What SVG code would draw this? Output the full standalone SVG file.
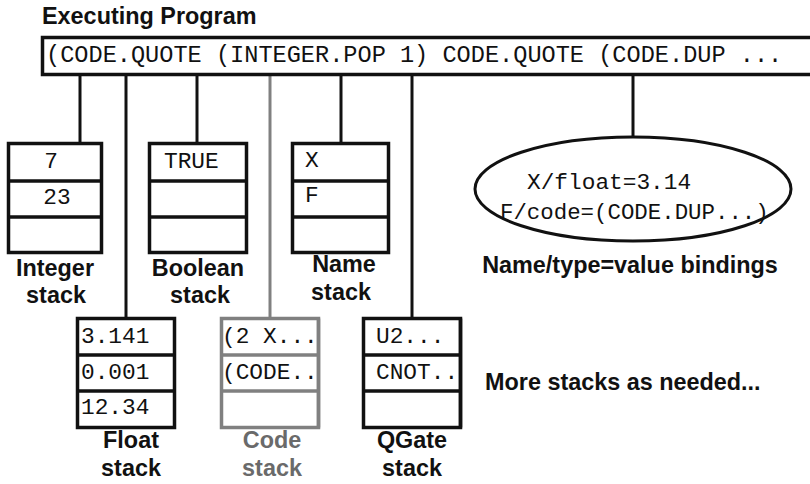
<svg xmlns="http://www.w3.org/2000/svg" width="810" height="484" viewBox="0 0 810 484">
  <style>
    .lbl { font-family: "Liberation Sans", Arial, sans-serif; font-weight: bold; font-size: 23.4px; fill: #111; }
    .lbl.c { text-anchor: middle; }
    .mono { font-family: "Liberation Mono", "Courier New", monospace; font-size: 22.8px; fill: #111; }
    .box { fill: #fff; stroke: #111; stroke-width: 3.5; }
    .div { stroke: #111; stroke-width: 3.5; }
    .gbox { fill: #fff; stroke: #808080; stroke-width: 3.5; }
    .gdiv { stroke: #808080; stroke-width: 3.5; }
    .wire { stroke: #111; stroke-width: 3; fill: none; }
    .gwire { stroke: #808080; stroke-width: 3; fill: none; }
    .grey { fill: #6a6a6a; }
  </style>
  <defs>
    <clipPath id="clipCode"><rect x="221" y="318" width="98" height="110"/></clipPath>
    <clipPath id="clipQGate"><rect x="363" y="318" width="98" height="110"/></clipPath>
  </defs>
  <rect width="810" height="484" fill="#fff"/>

  <!-- wires from the program line down to each stack -->
  <g id="connectors">
    <line class="wire" x1="80" y1="74" x2="80" y2="143"/>
    <line class="wire" x1="126" y1="74" x2="126" y2="318"/>
    <line class="wire" x1="197" y1="74" x2="197" y2="143"/>
    <line class="gwire" x1="270" y1="74" x2="270" y2="318"/>
    <line class="wire" x1="341" y1="74" x2="341" y2="143"/>
    <line class="wire" x1="412" y1="74" x2="412" y2="318"/>
    <line class="wire" x1="633" y1="74" x2="633" y2="138"/>
  </g>

  <g id="program">
    <text class="lbl" x="42" y="24">Executing Program</text>
    <rect class="box" x="42.5" y="37.5" width="800" height="37"/>
    <text class="mono" x="46" y="62" style="font-size:23.6px">(CODE.QUOTE (INTEGER.POP 1) CODE.QUOTE (CODE.DUP ...</text>
  </g>

  <g id="integer-stack">
    <rect class="box" x="8.5" y="143.5" width="93" height="109"/>
    <line class="div" x1="8.5" y1="181" x2="101.5" y2="181"/>
    <line class="div" x1="8.5" y1="217" x2="101.5" y2="217"/>
    <text class="mono" x="51" y="168" text-anchor="middle">7</text>
    <text class="mono" x="57" y="204" text-anchor="middle">23</text>
    <text class="lbl c" x="55" y="276">Integer</text>
    <text class="lbl c" x="56" y="303">stack</text>
  </g>

  <g id="boolean-stack">
    <rect class="box" x="149.5" y="143.5" width="97" height="109"/>
    <line class="div" x1="149.5" y1="181" x2="246.5" y2="181"/>
    <line class="div" x1="149.5" y1="217" x2="246.5" y2="217"/>
    <text class="mono" x="164" y="168">TRUE</text>
    <text class="lbl c" x="198" y="276">Boolean</text>
    <text class="lbl c" x="200" y="303">stack</text>
  </g>

  <g id="name-stack">
    <rect class="box" x="292.5" y="143.5" width="96" height="109"/>
    <line class="div" x1="292.5" y1="181" x2="388.5" y2="181"/>
    <line class="div" x1="292.5" y1="217" x2="388.5" y2="217"/>
    <text class="mono" x="305" y="167">X</text>
    <text class="mono" x="305" y="202">F</text>
    <text class="lbl c" x="344" y="272">Name</text>
    <text class="lbl c" x="341" y="300">stack</text>
  </g>

  <g id="bindings">
    <ellipse cx="633" cy="189" rx="158" ry="52" fill="#fff" stroke="#111" stroke-width="3"/>
    <text class="mono" x="527" y="189">X/float=3.14</text>
    <text class="mono" x="500" y="219" style="font-size:22.4px">F/code=(CODE.DUP...)</text>
    <text class="lbl c" x="630" y="273">Name/type=value bindings</text>
  </g>

  <g id="float-stack">
    <rect class="box" x="77.5" y="318.5" width="97" height="109"/>
    <line class="div" x1="77.5" y1="355" x2="174.5" y2="355"/>
    <line class="div" x1="77.5" y1="391" x2="174.5" y2="391"/>
    <text class="mono" x="81" y="343">3.141</text>
    <text class="mono" x="81" y="379">0.001</text>
    <text class="mono" x="81" y="414">12.34</text>
    <text class="lbl c" x="131" y="448">Float</text>
    <text class="lbl c" x="131" y="476">stack</text>
  </g>

  <g id="code-stack">
    <rect class="gbox" x="221.5" y="318.5" width="97" height="109"/>
    <g clip-path="url(#clipCode)">
      <text class="mono" x="222" y="343">(2 X...</text>
      <text class="mono" x="222" y="379">(CODE..</text>
    </g>
    <line class="gdiv" x1="221.5" y1="355" x2="318.5" y2="355"/>
    <line class="gdiv" x1="221.5" y1="391" x2="318.5" y2="391"/>
    <line class="gdiv" x1="318.5" y1="318.5" x2="318.5" y2="427.5"/>
    <text class="lbl c grey" x="272" y="448">Code</text>
    <text class="lbl c grey" x="272" y="476">stack</text>
  </g>

  <g id="qgate-stack">
    <rect class="box" x="363.5" y="318.5" width="97" height="109"/>
    <g clip-path="url(#clipQGate)">
      <text class="mono" x="376" y="343">U2...</text>
      <text class="mono" x="376" y="379">CNOT..</text>
    </g>
    <line class="div" x1="363.5" y1="355" x2="460.5" y2="355"/>
    <line class="div" x1="363.5" y1="391" x2="460.5" y2="391"/>
    <line class="div" x1="460.5" y1="318.5" x2="460.5" y2="427.5"/>
    <text class="lbl c" x="412" y="448">QGate</text>
    <text class="lbl c" x="412" y="476">stack</text>
  </g>

  <g id="more-stacks">
    <text class="lbl" x="485" y="390">More stacks as needed...</text>
  </g>
</svg>
